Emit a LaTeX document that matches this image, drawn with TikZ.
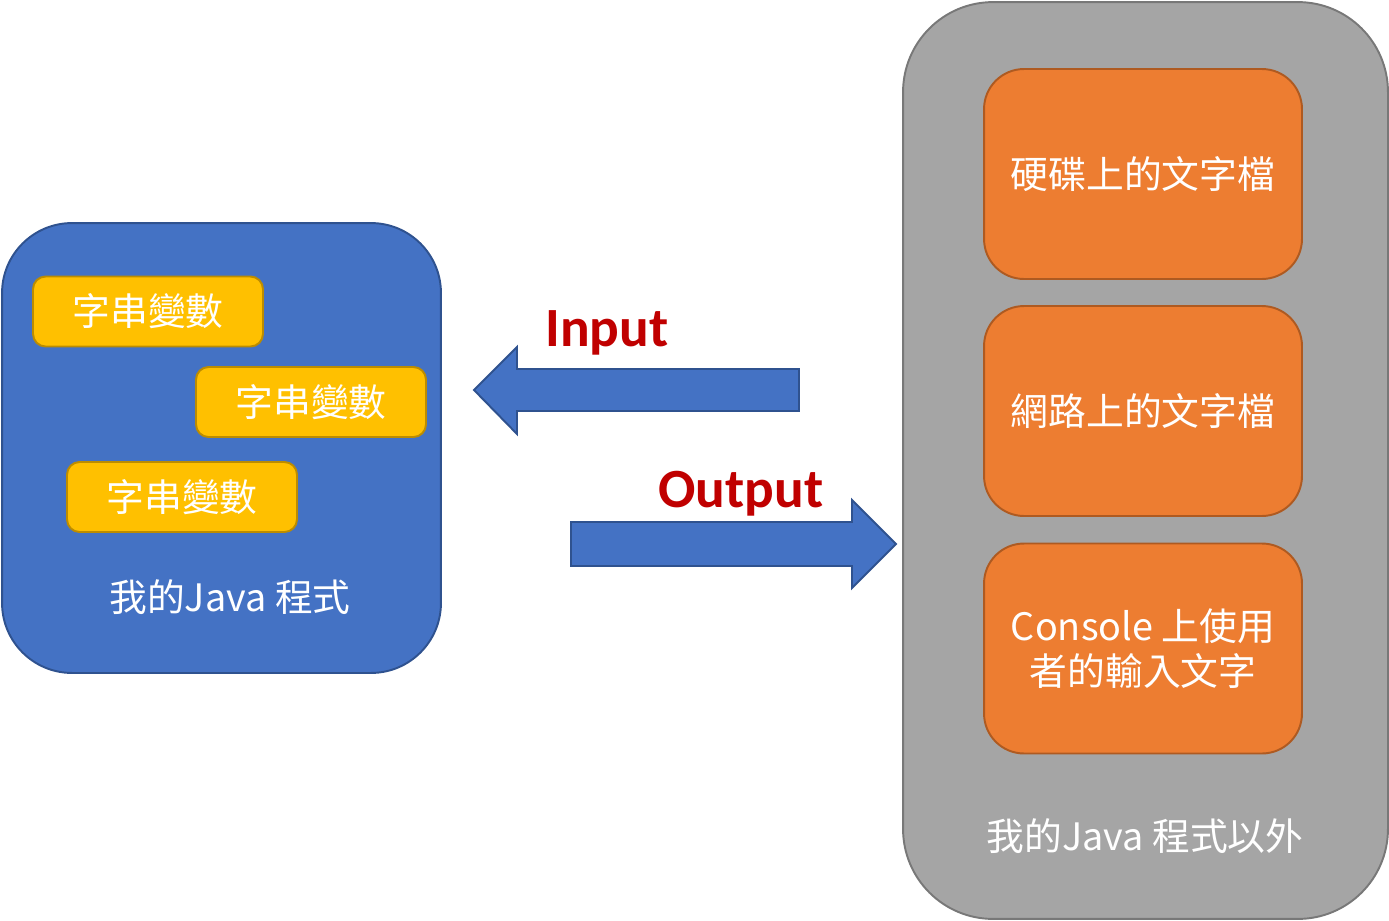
\documentclass[tikz,border=0pt]{standalone}
\usepackage{fontspec}
\setmainfont{Noto Sans CJK TC}
\newfontfamily\labelfont{Carlito}
\usepackage{tikz}
\usetikzlibrary{positioning}
\definecolor{progblue}{HTML}{4472C4}
\definecolor{progblueline}{HTML}{2F528F}
\definecolor{varyellow}{HTML}{FFC000}
\definecolor{varyellowline}{HTML}{BC8C00}
\definecolor{outgrey}{HTML}{A5A5A5}
\definecolor{outgreyline}{HTML}{787878}
\definecolor{srcorange}{HTML}{ED7D31}
\definecolor{srcorangeline}{HTML}{AE5A21}
\definecolor{iored}{HTML}{C00000}
\tikzset{
  progbox/.style={draw=progblueline, fill=progblue, line width=1.1pt, rounded corners=1.4cm,
    minimum width=8.78cm, minimum height=9cm},
  varbox/.style={draw=varyellowline, fill=varyellow, line width=1.1pt, rounded corners=0.25cm,
    minimum width=4.6cm, minimum height=1.4cm, text=white, font=\fontsize{21.5}{26}\selectfont},
  outbox/.style={draw=outgreyline, fill=outgrey, line width=1.1pt, rounded corners=1.8cm,
    minimum width=9.7cm, minimum height=18.34cm},
  srcbox/.style={draw=srcorangeline, fill=srcorange, line width=1.1pt, rounded corners=0.8cm,
    minimum width=6.36cm, minimum height=4.2cm, text=white, align=center,
    font=\fontsize{21.5}{25.5}\selectfont},
  boxlabel/.style={text=white, font=\fontsize{21.5}{24}\selectfont},
  flowarrow/.style={draw=progblueline, fill=progblue, line width=1.1pt},
  flowlabel/.style={text=iored, font=\labelfont\bfseries\fontsize{31.5}{36}\selectfont}
}

\begin{document}
\begin{tikzpicture}[x=0.02cm, y=-0.02cm]
\useasboundingbox (0,0) rectangle (1389,920);
% my program
\node[progbox] (prog) at (221.5,448) {};
\node[varbox] (var1) at (148,311.5) {字串變數};
\node[varbox] (var2) at (311,402) {字串變數};
\node[varbox] (var3) at (182,497) {字串變數};
\node[boxlabel] (proglabel) at (230,597) {我的Java 程式};

% outside the program
\node[outbox] (outside) at (1145.5,460.5) {};
\node[srcbox] (disk) at (1143,174) {硬碟上的文字檔};
\node[srcbox] (net) at (1143,411) {網路上的文字檔};
\node[srcbox] (console) at (1143,648.5) {Console 上使用\\者的輸入文字};
\node[boxlabel] (outlabel) at (1145,836) {我的Java 程式以外};

% block arrows
\draw[flowarrow] (799,369) -- (517,369) -- (517,347) -- (474,390)
  -- (517,434) -- (517,411) -- (799,411) -- cycle;
\draw[flowarrow] (571,522) -- (852,522) -- (852,500) -- (896,544)
  -- (852,588) -- (852,566) -- (571,566) -- cycle;
\node[flowlabel] (input) at (607,333) {Input};
\node[flowlabel] (output) at (741,494) {Output};
\end{tikzpicture}
\end{document}
